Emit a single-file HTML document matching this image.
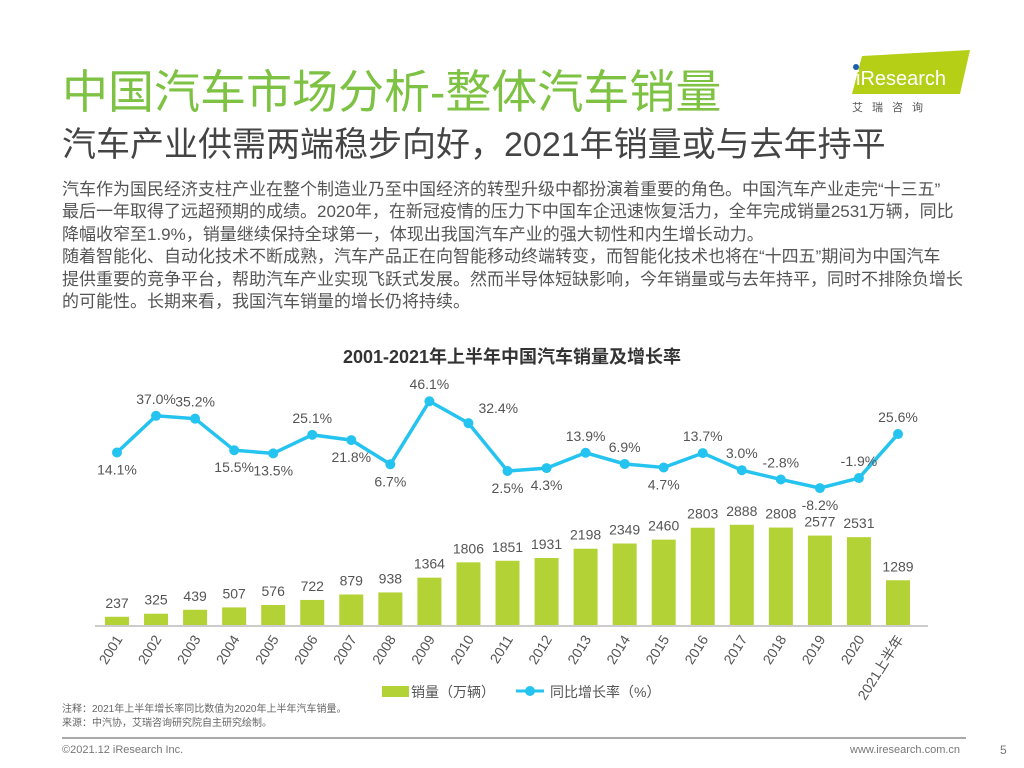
<!DOCTYPE html>
<html><head><meta charset="utf-8">
<style>
body{margin:0;width:1024px;height:768px;background:#fff;position:relative;overflow:hidden;font-family:"Liberation Sans","Noto Sans CJK SC",sans-serif;}
.abs{position:absolute;white-space:nowrap;}
#title{left:62px;top:56px;font-size:46px;color:#7dc242;}
#subtitle{left:62px;top:117px;font-size:34px;color:#444;}
#body{left:62px;top:179px;font-size:17px;line-height:22.4px;color:#555;}
#chart{position:absolute;left:0;top:0;}
</style></head><body>
<div class="abs" id="title">中国汽车市场分析-整体汽车销量</div>
<div class="abs" id="subtitle">汽车产业供需两端稳步向好，2021年销量或与去年持平</div>
<div class="abs" id="body">汽车作为国民经济支柱产业在整个制造业乃至中国经济的转型升级中都扮演着重要的角色。中国汽车产业走完“十三五”<br>最后一年取得了远超预期的成绩。2020年，在新冠疫情的压力下中国车企迅速恢复活力，全年完成销量2531万辆，同比<br>降幅收窄至1.9%，销量继续保持全球第一，体现出我国汽车产业的强大韧性和内生增长动力。<br>随着智能化、自动化技术不断成熟，汽车产品正在向智能移动终端转变，而智能化技术也将在“十四五”期间为中国汽车<br>提供重要的竞争平台，帮助汽车产业实现飞跃式发展。然而半导体短缺影响，今年销量或与去年持平，同时不排除负增长<br>的可能性。长期来看，我国汽车销量的增长仍将持续。</div>
<div class="abs" style="left:848px;top:48px;width:124px;height:70px;">
<svg width="124" height="70"><polygon points="14,8 122,2 112,46 4,46" fill="#b5cf17"/><circle cx="8" cy="19" r="3" fill="#1a5fb4"/><text x="8" y="37" font-size="20" fill="#fff" font-family="Liberation Sans">iResearch</text><text x="4" y="63" font-size="11" fill="#555" letter-spacing="9" font-family="Noto Sans CJK SC">艾瑞咨询</text></svg></div>
<svg id="chart" width="1024" height="768"></svg>
<div class="abs" style="left:62px;top:703px;font-size:10px;color:#666;line-height:14px;">注释：2021年上半年增长率同比数值为2020年上半年汽车销量。<br>来源：中汽协，艾瑞咨询研究院自主研究绘制。</div>
<div class="abs" style="left:62px;top:737px;width:904px;height:2px;background:#aaa;"></div>
<div class="abs" style="left:62px;top:744px;font-size:11px;color:#777;">©2021.12 iResearch Inc.</div>
<div class="abs" style="left:850px;top:744px;font-size:11px;color:#777;">www.iresearch.com.cn</div>
<div class="abs" style="left:1000px;top:743px;font-size:12px;color:#777;">5</div>
<script>
const categories=["2001","2002","2003","2004","2005","2006","2007","2008","2009","2010","2011","2012","2013","2014","2015","2016","2017","2018","2019","2020","2021上半年"];
const sales=[237,325,439,507,576,722,879,938,1364,1806,1851,1931,2198,2349,2460,2803,2888,2808,2577,2531,1289];
const growth=[14.1,37.0,35.2,15.5,13.5,25.1,21.8,6.7,46.1,32.4,2.5,4.3,13.9,6.9,4.7,13.7,3.0,-2.8,-8.2,-1.9,25.6];
const labelPos=["b","a","a","b","b","a","b","b","a","r","b","b","a","a","b","a","a","a","b","a","a"];
const NS="http://www.w3.org/2000/svg";
const svg=document.getElementById('chart');
function mk(t,a,p){const e=document.createElementNS(NS,t);for(const k in a)e.setAttribute(k,a[k]);(p||svg).appendChild(e);return e;}
const x0=117,step=39.05,base=625,bw=24;
const xs=i=>x0+i*step;
const ys=v=>base-v*0.0347;
const yg=v=>475-v*1.6;
const t=mk('text',{x:512,y:363,'text-anchor':'middle','font-size':18,'font-weight':'bold',fill:'#333','font-family':'Liberation Sans, Noto Sans CJK SC, sans-serif'});
t.textContent='2001-2021年上半年中国汽车销量及增长率';


const ax=mk('line',{x1:95,x2:928,y1:base+1,y2:base+1,stroke:'#ccc','stroke-width':2});


const F='Liberation Sans, Noto Sans CJK SC, sans-serif';
sales.forEach((v,i)=>{
 const r=mk('rect',{x:xs(i)-bw/2,y:ys(v),width:bw,height:base-ys(v),fill:'#b3d235'});
 
 
 const l=mk('text',{x:xs(i),y:ys(v)-9,'text-anchor':'middle','font-size':14,fill:'#555','font-family':F});
 l.textContent=v;
 
 
 const c=mk('text',{x:0,y:0,'text-anchor':'end','font-size':14,fill:'#555','font-family':F,transform:`translate(${xs(i)+6},${base+14}) rotate(-58)`});
 c.textContent=categories[i];
 
 
});
const pl=mk('polyline',{points:growth.map((v,i)=>xs(i)+','+yg(v)).join(' '),fill:'none',stroke:'#25c3ef','stroke-width':3.5});


growth.forEach((v,i)=>{
 const c=mk('circle',{cx:xs(i),cy:yg(v),r:5,fill:'#25c3ef'});
 
 
 const p=labelPos[i];
 let lx=xs(i),ly=p==='a'?yg(v)-12:yg(v)+22,anc='middle';
 if(p==='r'){lx=xs(i)+10;ly=yg(v)-10;anc='start';}
 const l=mk('text',{x:lx,y:ly,'text-anchor':anc,'font-size':14,fill:'#555','font-family':F});
 l.textContent=v.toFixed(1)+'%';
 
 
});
const lg1=mk('rect',{x:382,y:686,width:27,height:11,fill:'#b3d235'});


const lt1=mk('text',{x:411,y:697,'font-size':14,fill:'#555','font-family':F});
lt1.textContent='销量（万辆）';


const lg2=mk('line',{x1:516,x2:544,y1:691,y2:691,stroke:'#25c3ef','stroke-width':3});


const lg3=mk('circle',{cx:530,cy:691,r:5,fill:'#25c3ef'});


const lt2=mk('text',{x:550,y:697,'font-size':14,fill:'#555','font-family':F});
lt2.textContent='同比增长率（%）';


</script>
</body></html>
